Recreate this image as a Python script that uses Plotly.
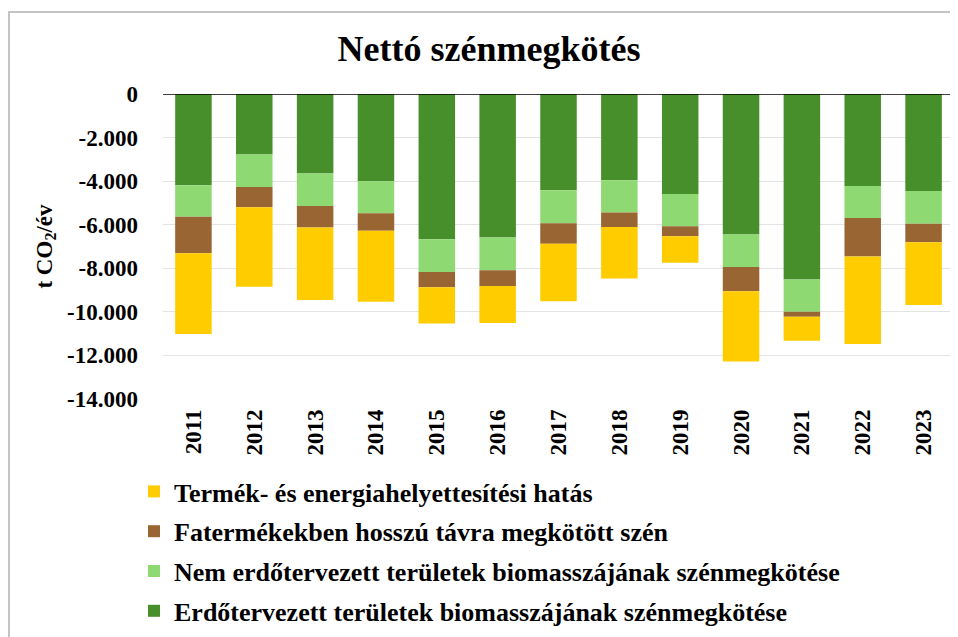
import plotly.graph_objects as go

years = ["2011", "2012", "2013", "2014", "2015", "2016", "2017",
         "2018", "2019", "2020", "2021", "2022", "2023"]

# t CO2/év (negative = sequestration)
erdotervezett = [-4190, -2780, -3650, -4010, -6670, -6590, -4420,
                 -3960, -4590, -6450, -8520, -4220, -4450]
nem_erdotervezett = [-1450, -1490, -1490, -1460, -1500, -1500, -1510,
                     -1480, -1480, -1490, -1480, -1470, -1500]
fatermekek = [-1670, -930, -990, -810, -700, -720, -940,
              -660, -460, -1110, -230, -1770, -850]
helyettesitesi = [-3710, -3650, -3330, -3260, -1670, -1700, -2640,
                  -2370, -1220, -3230, -1100, -4010, -2890]

y_tickvals = [0, -2000, -4000, -6000, -8000, -10000, -12000, -14000]
y_ticktext = ["0", "-2.000", "-4.000", "-6.000", "-8.000", "-10.000", "-12.000", "-14.000"]

series = [
    ("Erdőtervezett területek biomasszájának szénmegkötése", erdotervezett, "#478F2A", 4),
    ("Nem erdőtervezett területek biomasszájának szénmegkötése", nem_erdotervezett, "#8FD973", 3),
    ("Fatermékekben hosszú távra megkötött szén", fatermekek, "#996633", 2),
    ("Termék- és energiahelyettesítési hatás", helyettesitesi, "#FFCC00", 1),
]

FONT = "Liberation Serif, serif"
W, H = 950, 629          # page body has an 8px margin
L, R, T, B = 155, 4, 86, 238
PW = W - L - R
PH = H - T - B

fig = go.Figure()
for name, vals, color, rank in series:
    fig.add_trace(go.Bar(
        x=years, y=vals, name="<b>" + name + "</b>",
        marker=dict(color=color, line=dict(width=0)),
        legendgroup=name, legendrank=rank,
    ))

fig.update_layout(
    width=W, height=H,
    barmode="relative",
    bargap=0.4,
    plot_bgcolor="white",
    paper_bgcolor="white",
    margin=dict(l=L, r=R, t=T, b=B, autoexpand=False),
    font=dict(family=FONT, size=22, color="black"),
    title=dict(
        text="<b>Nettó szénmegkötés</b>",
        x=(489 - 8) / W, xanchor="center", xref="container",
        y=1 - 40 / H, yanchor="middle",
        font=dict(family=FONT, size=36, color="black"),
    ),
    legend=dict(
        orientation="v",
        x=(126 - L) / PW, xanchor="left", xref="paper",
        y=(PH - (460 - T)) / PH, yanchor="top", yref="paper",
        tracegroupgap=3,
        font=dict(family=FONT, size=26, color="black"),
        bgcolor="rgba(0,0,0,0)",
    ),
    showlegend=True,
)

fig.update_yaxes(
    range=[-14000, 0],
    tickvals=y_tickvals, ticktext=["<b>" + t + "</b>" for t in y_ticktext],
    showgrid=True, gridcolor="#E3E3E3", gridwidth=1,
    zeroline=False,
    showline=False,
    automargin=False,
    ticks="", ticklabelstandoff=24,
    tickfont=dict(family=FONT, size=23, color="black"),
    title=dict(text="<b>t CO<sub>2</sub>/év</b>", standoff=8,
               font=dict(family=FONT, size=23, color="black")),
)
fig.update_xaxes(
    tickangle=-90,
    tickvals=years, ticktext=["<b>" + y + "</b>" for y in years],
    showline=False,
    automargin=False,
    tickfont=dict(family=FONT, size=23, color="black"),
    ticks="",
    ticklabelstandoff=5,
)

fig.add_shape(type="line", xref="paper", yref="y", x0=0, x1=1, y0=0, y1=0,
              line=dict(color="black", width=1.5), layer="above")

# outer chart-area border
fig.add_shape(type="rect", xref="paper", yref="paper",
              x0=(1 - L) / PW, x1=(W + 6 - L) / PW,
              y0=(PH - (H + 8 - T)) / PH, y1=(PH - (4 - T)) / PH,
              line=dict(color="#C4C4C4", width=2), fillcolor="rgba(0,0,0,0)",
              layer="below")

fig.write_html("out.html")
